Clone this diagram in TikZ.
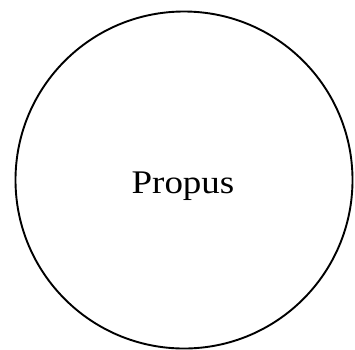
\documentclass[tikz,border=0pt]{standalone}
\usepackage{fontspec}
\setmainfont{Liberation Serif}
\begin{document}
\begin{tikzpicture}[x=1pt,y=-1pt,
  starcircle/.style={draw=black, line width=1.9pt, circle, minimum size=337pt, inner sep=0pt},
  starlabel/.style={font=\fontsize{33}{40}\selectfont}]
\useasboundingbox (0,0) rectangle (355,349);
\node[starcircle] (c) at (184,180) {};
\node[starlabel] (t) at (183,186) {\scalebox{1.12}[1]{Propus}};
\end{tikzpicture}
\end{document}
